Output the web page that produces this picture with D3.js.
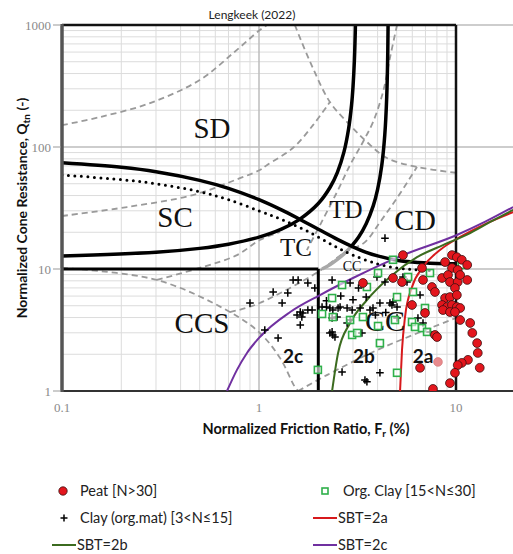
<!DOCTYPE html>
<html><head><meta charset="utf-8">
<script src="https://cdn.jsdelivr.net/npm/d3@7"></script>
<style>body{margin:0;background:#fff}</style>
</head><body>
<svg id="c" width="513" height="554" xmlns="http://www.w3.org/2000/svg"></svg>
<script>
// ---------- data ----------
const frTicks = [0.1, 1, 10];
const frTickLabels = ["0.1", "1", "10"];
const qTicks = [1, 10, 100, 1000];
const qTickLabels = ["1", "10", "100", "1000"];

const peat = [[5.38,13.0],[9.54,13.0],[10.1,12.5],[10.7,11.9],[8.80,11.4],[6.72,10.2],[9.54,10.2],[10.2,9.82],[11.4,10.8],[4.79,8.44],[5.32,7.82],[6.80,8.13],[8.49,8.44],[9.11,8.93],[9.32,7.82],[10.2,7.82],[10.5,8.93],[11.4,8.13],[7.55,7.12],[9.88,6.99],[7.82,6.48],[8.80,5.78],[9.32,5.89],[10.1,6.12],[8.49,5.07],[9.00,4.88],[9.54,5.07],[10.1,4.88],[10.5,4.79],[8.59,4.61],[9.32,4.44],[9.88,4.44],[10.5,3.82],[11.8,3.61],[12.1,2.99],[7.82,2.88],[12.8,2.47],[12.9,2.05],[13.2,1.55],[11.5,1.80],[10.7,1.70],[10.2,1.63],[6.57,1.55],[9.88,1.41],[9.32,1.16],[7.64,1.04],[3.37,7.68],[5.98,5.07],[6.96,4.36],[8.01,2.77]];
const peatFaded = [[8.10,1.73]];
const orgClay = [[4.79,11.9],[4.02,9.27],[7.38,9.27],[5.71,8.60],[10.7,10.8],[2.64,7.39],[3.53,7.12],[2.35,5.78],[6.05,6.48],[5.02,5.89],[2.09,4.28],[2.37,4.04],[2.90,3.82],[3.37,4.04],[4.02,3.41],[4.90,3.82],[5.98,3.68],[6.96,4.79],[6.19,3.35],[6.72,3.28],[7.13,3.05],[2.97,2.88],[3.15,2.99],[4.11,2.47],[1.99,1.49],[5.02,1.41]];
const clayOrgMat = [[4.36,17.9],[1.49,8.13],[1.58,8.13],[1.77,7.68],[1.18,6.48],[1.40,6.36],[1.31,5.27],[0.90,5.27],[1.62,4.44],[1.67,4.36],[1.77,4.61],[1.86,4.61],[1.56,4.20],[1.65,4.04],[1.62,3.48],[1.25,2.72],[1.07,3.16],[1.92,6.99],[2.35,8.13],[2.09,4.88],[2.29,4.79],[2.37,4.61],[2.52,4.79],[2.49,4.04],[2.80,4.79],[2.35,3.97],[2.29,2.99],[2.37,2.88],[2.43,2.77],[2.90,3.82],[3.26,4.79],[3.33,2.99],[3.79,4.79],[4.11,5.27],[4.62,5.27],[4.73,5.07],[5.02,4.88],[3.97,8.60],[5.38,8.60],[5.64,7.82],[6.57,6.12],[7.38,3.05],[2.64,1.43],[3.45,1.23],[4.11,1.41],[5.02,3.97],[6.80,3.61],[2.90,7.68],[3.20,6.99],[4.36,7.82],[4.79,5.37],[3.66,4.61],[2.97,4.61],[2.58,4.88],[2.20,4.88],[2.80,3.61],[2.35,3.05],[6.41,3.97],[3.53,1.19],[2.60,6.0],[3.00,5.6],[3.50,5.9],[2.20,5.5],[3.90,4.2],[4.40,4.4]];

// SBT curves (Fr, Qtn)
const sbt2a = [[5.20,1.0],[5.32,2.17],[5.51,4.04],[5.98,7.12],[6.80,10.4],[8.29,14.3],[10.5,18.3],[14.4,23.8],[19.5,29.3]];
const sbt2b = [[2.35,1.0],[2.52,2.05],[2.90,3.61],[3.53,5.57],[4.62,8.6],[6.34,12.5],[8.59,15.7],[11.8,19.7],[14.9,24.3],[19.5,30.5]];
const sbt2c = [[0.688,1.0],[0.773,1.49],[0.869,2.05],[1.01,2.77],[1.44,4.44],[2.04,6.12],[3.0,8.44],[5.38,13.0],[10.1,19.0],[14.0,24.3],[19.5,32.2]];

// Robertson (2016) boundaries
const cdLine = [[0.1,74.2],[0.2,68.1],[0.3,62.7],[0.5,53.3],[0.7,45.8],[1.0,37.0],[1.3,30.5],[1.6,25.7],[2.0,21.2],[2.5,17.5],[3.0,15.2],[3.5,13.7],[4.0,12.8],[5.0,11.8],[6.0,11.4],[8.0,11.09],[10.0,11.02]];
const ib32Line = [[0.1,12.81],[0.3,13.72],[0.5,14.76],[0.7,15.97],[1.0,18.24],[1.3,21.2],[1.6,25.4],[2.0,34.4],[2.3,47.0],[2.5,62],[2.7,91.2],[2.85,141],[2.95,221],[3.0,310],[3.05,517],[3.08,861],[3.09,1107]];
const ib22Line = [[2.95,15.4],[3.2,18.2],[3.5,23.5],[3.8,32.9],[4.0,45],[4.2,71],[4.35,125.6],[4.45,257],[4.5,540],[4.52,964],[4.525,1200]];
const ib22Lower = [[2.95,15.4],[2.7,13.3],[2.5,12.0],[2.3,10.9],[2.09,10.0]];
const dottedLine = [[0.1,59],[0.2,54],[0.3,50],[0.5,43],[0.7,37],[1.0,30],[1.3,25.5],[1.75,20.5],[2.4,15.5],[3.0,13],[4.0,11],[5.0,10.2],[6.0,9.9],[7.4,9.7]];
const ccsTop = [[0.1,10],[2.0,10]];
const ccsRight = [[2.0,10],[2.0,1]];

// Robertson (1990) zone boundaries (gray dashed)
const zoneLines = [
  [[0.1,151],[0.156,176],[0.28,229],[0.50,354],[0.74,589],[1.01,910],[1.10,1000]],
  [[0.1,27.2],[0.214,32.2],[0.462,40.4],[0.80,55.5],[1.01,64.8],[1.10,71.3],[1.49,98.5],[1.88,151],[2.29,234]],
  [[1.52,1000],[1.82,497],[2.29,234],[2.90,151],[3.53,110],[4.46,81.2],[6.34,68.6],[10,61.5]],
  [[5.02,1000],[4.62,537],[4.26,282],[3.79,160],[3.37,110],[2.90,71.2],[2.49,42.8],[2.04,22.9],[1.75,14.3]],
  [[0.712,4.44],[0.954,5.07],[1.99,9.45],[2.73,13.7],[3.45,16.6],[4.11,24.2],[5.02,38.2],[6.34,68.6]],
  [[0.1,10.2],[0.303,8.13],[0.712,4.44],[1.01,2.99],[1.28,1.86],[1.52,1.08],[1.58,1.0]],
  [[1.58,1.0],[2.21,1.35],[3.79,2.09],[6.05,2.88],[10,3.97]],
  [[0.303,8.13],[0.52,10.4],[0.773,13.0],[1.01,17.3],[1.28,20.1]]
];

// ---------- layout ----------
const svg = d3.select("#c");
const x = d3.scaleLog().domain([0.1, 10]).range([62, 456]);
const y = d3.scaleLog().domain([1, 1000]).range([391, 25]);
const xR = 513;

const defs = svg.append("defs");
defs.append("clipPath").attr("id","frame").append("rect").attr("x",62).attr("y",25).attr("width",456-62).attr("height",391-25);
defs.append("clipPath").attr("id","wide").append("rect").attr("x",62).attr("y",25).attr("width",xR-62).attr("height",391-25);

// grid
const g = svg.append("g");
const minorX = [], minorY = [];
[0.1,1].forEach(d => { for (let k=2;k<=9;k++) minorX.push(k*d); });
[1,10,100].forEach(d => { for (let k=2;k<=9;k++) minorY.push(k*d); });
g.selectAll(".mx").data(minorX).enter().append("line")
  .attr("x1",d=>x(d)).attr("x2",d=>x(d)).attr("y1",y(1)).attr("y2",y(1000))
  .attr("stroke","#dcdcdc").attr("stroke-width",1);
g.selectAll(".my").data(minorY).enter().append("line")
  .attr("x1",x(0.1)).attr("x2",x(10)).attr("y1",d=>y(d)).attr("y2",d=>y(d))
  .attr("stroke","#dcdcdc").attr("stroke-width",1);
g.selectAll(".MY").data(qTicks).enter().append("line")
  .attr("x1",x(0.1)).attr("x2",xR).attr("y1",d=>y(d)).attr("y2",d=>y(d))
  .attr("stroke","#bdbdbd").attr("stroke-width",1.5);
g.append("line").attr("x1",x(1)).attr("x2",x(1)).attr("y1",y(1)).attr("y2",y(1000))
  .attr("stroke","#bdbdbd").attr("stroke-width",1.5);

const line = d3.line().x(d=>x(d[0])).y(d=>y(d[1])).curve(d3.curveCatmullRom.alpha(0.5));
const smooth = d3.line().x(d=>x(d[0])).y(d=>y(d[1])).curve(d3.curveMonotoneX);
const straight = d3.line().x(d=>x(d[0])).y(d=>y(d[1]));

// dashed zone boundaries
const dz = svg.append("g").attr("clip-path","url(#frame)");
zoneLines.forEach(l => dz.append("path").attr("d", line(l)).attr("fill","none")
  .attr("stroke","#9a9a9a").attr("stroke-width",1.8).attr("stroke-dasharray","6,4"));

// black boundaries
const bz = svg.append("g").attr("clip-path","url(#frame)");
bz.append("path").attr("d", line(ib22Lower)).attr("fill","none").attr("stroke","#a8a8a8").attr("stroke-width",3.5);
[cdLine, ib32Line, ib22Line].forEach(l => bz.append("path").attr("d", line(l)).attr("fill","none")
  .attr("stroke","#000").attr("stroke-width",3.5));
bz.append("path").attr("d", line(dottedLine)).attr("fill","none").attr("stroke","#000")
  .attr("stroke-width",3).attr("stroke-dasharray","0,6.5").attr("stroke-linecap","round");
[ccsTop, ccsRight].forEach(l => bz.append("path").attr("d", straight(l)).attr("fill","none")
  .attr("stroke","#000").attr("stroke-width",3));

// frame
svg.append("line").attr("x1",x(0.1)).attr("x2",x(10)).attr("y1",y(1000)).attr("y2",y(1000)).attr("stroke","#111").attr("stroke-width",2.5);
svg.append("line").attr("x1",x(10)).attr("x2",x(10)).attr("y1",y(1)).attr("y2",y(1000)).attr("stroke","#111").attr("stroke-width",2.5);
svg.append("line").attr("x1",x(0.1)).attr("x2",xR).attr("y1",y(1)).attr("y2",y(1)).attr("stroke","#333").attr("stroke-width",2);
svg.append("line").attr("x1",x(0.1)).attr("x2",x(0.1)).attr("y1",y(1)+1).attr("y2",y(1000)-1).attr("stroke","#555").attr("stroke-width",3.5);

// y ticks
const ax = svg.append("g");
qTicks.forEach((q,i) => {
  ax.append("line").attr("x1",53).attr("x2",61).attr("y1",y(q)).attr("y2",y(q)).attr("stroke","#999").attr("stroke-width",1);
  ax.append("text").attr("x",51).attr("y",y(q)+4.5).attr("text-anchor","end")
    .attr("font-family","Liberation Serif, serif").attr("font-size",13).attr("fill","#8a8a8a").text(qTickLabels[i]);
});
frTicks.forEach((f,i) => {
  ax.append("text").attr("x",x(f)).attr("y",412).attr("text-anchor","middle")
    .attr("font-family","Liberation Serif, serif").attr("font-size",13).attr("fill","#8a8a8a").text(frTickLabels[i]);
});

// SBT curves
const sz = svg.append("g").attr("clip-path","url(#wide)");
[[sbt2a,"#d7191c"],[sbt2b,"#3b6b1f"],[sbt2c,"#7030a0"]].forEach(([l,c]) =>
  sz.append("path").attr("d", smooth(l)).attr("fill","none").attr("stroke",c).attr("stroke-width",2));

// zone labels
const zoneLabels = [
  ["SD",212,138,29],["SC",175,227,29],["CCS",202,333,29],["TD",346,218,25],["CD",415,230,30],
  ["TC",296,256,25],["CC",352,271,14],["CC",385,331,30]
];
zoneLabels.forEach(([t,px,py,fs]) => svg.append("text").attr("x",px).attr("y",py).attr("text-anchor","middle")
  .attr("font-family","Liberation Serif, serif").attr("font-size",fs).attr("fill","#111").text(t));

// points
const pz = svg.append("g").attr("clip-path","url(#wide)");
const plus = (px,py,s) => `M${px-s},${py}H${px+s}M${px},${py-s}V${py+s}`;
pz.selectAll(".cl").data(clayOrgMat).enter().append("path")
  .attr("d", d => plus(x(d[0]), y(d[1]), 3.8)).attr("stroke","#000").attr("stroke-width",1.5);
pz.selectAll(".oc").data(orgClay).enter().append("rect")
  .attr("x", d=>x(d[0])-3.5).attr("y", d=>y(d[1])-3.5).attr("width",7).attr("height",7)
  .attr("fill","#fff").attr("fill-opacity",0.6).attr("stroke","#2fb04a").attr("stroke-width",1.6);
pz.selectAll(".pt").data(peat).enter().append("circle")
  .attr("cx", d=>x(d[0])).attr("cy", d=>y(d[1])).attr("r",4.4)
  .attr("fill","#e3161d").attr("stroke","#3a1010").attr("stroke-width",0.8);
pz.selectAll(".pf").data(peatFaded).enter().append("circle")
  .attr("cx", d=>x(d[0])).attr("cy", d=>y(d[1])).attr("r",4.4)
  .attr("fill","#e88a8d").attr("stroke","#d07070").attr("stroke-width",0.6);

// segment labels 2a/2b/2c
[["2c",293,363],["2b",364,363],["2a",423,363]].forEach(([t,px,py]) =>
  svg.append("text").attr("x",px).attr("y",py).attr("text-anchor","middle").attr("font-family","Lato, sans-serif")
    .attr("font-weight","bold").attr("font-size",19).attr("fill","#111").text(t));

// titles
svg.append("text").attr("x",252).attr("y",19).attr("text-anchor","middle").attr("font-family","Lato, sans-serif")
  .attr("font-size",12).attr("fill","#222").text("Lengkeek (2022)");
const xt = svg.append("text").attr("x",306).attr("y",434).attr("text-anchor","middle").attr("font-family","Lato, sans-serif")
  .attr("font-weight","bold").attr("font-size",14.5).attr("fill","#111");
xt.append("tspan").text("Normalized Friction Ratio, F");
xt.append("tspan").attr("font-size",10).attr("dy",3).text("r");
xt.append("tspan").attr("dy",-3).text(" (%)");
const yt = svg.append("text").attr("transform","translate(27,208) rotate(-90)").attr("text-anchor","middle")
  .attr("font-family","Lato, sans-serif").attr("font-weight","bold").attr("font-size",14).attr("fill","#111");
yt.append("tspan").text("Normalized Cone Resistance, Q");
yt.append("tspan").attr("font-size",10).attr("dy",3).text("tn");
yt.append("tspan").attr("dy",-3).text(" (-)");

// legend
const lg = svg.append("g").attr("font-family","Lato, sans-serif").attr("font-size",14.5).attr("fill","#222");
lg.append("circle").attr("cx",63).attr("cy",491).attr("r",4.2).attr("fill","#e3161d").attr("stroke","#3a1010").attr("stroke-width",0.8);
lg.append("text").attr("x",80).attr("y",496).text("Peat [N>30]");
lg.append("rect").attr("x",322).attr("y",488).attr("width",6).attr("height",6).attr("fill","#fff").attr("stroke","#2fb04a").attr("stroke-width",1.6);
lg.append("text").attr("x",343).attr("y",496).text("Org. Clay [15<N≤30]");
lg.append("path").attr("d",plus(64,518,3.5)).attr("stroke","#000").attr("stroke-width",1.5);
lg.append("text").attr("x",80).attr("y",523).text("Clay (org.mat) [3<N≤15]");
lg.append("line").attr("x1",313).attr("x2",337).attr("y1",518).attr("y2",518).attr("stroke","#d7191c").attr("stroke-width",2);
lg.append("text").attr("x",338).attr("y",523).text("SBT=2a");
lg.append("line").attr("x1",52).attr("x2",76).attr("y1",545).attr("y2",545).attr("stroke","#3b6b1f").attr("stroke-width",2);
lg.append("text").attr("x",77).attr("y",550).text("SBT=2b");
lg.append("line").attr("x1",313).attr("x2",337).attr("y1",545).attr("y2",545).attr("stroke","#7030a0").attr("stroke-width",2);
lg.append("text").attr("x",338).attr("y",550).text("SBT=2c");
</script>
</body></html>
